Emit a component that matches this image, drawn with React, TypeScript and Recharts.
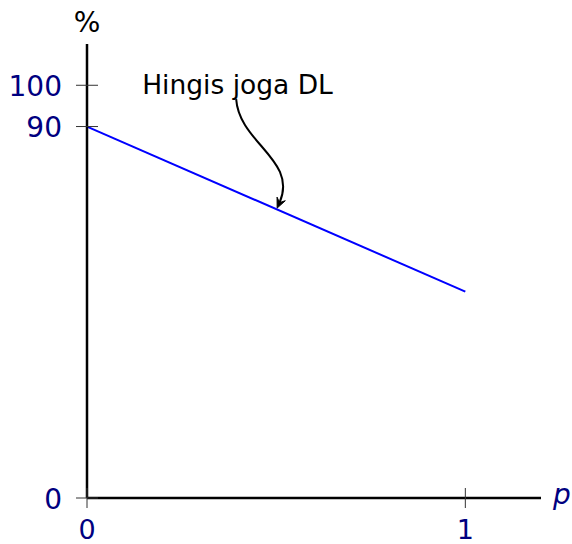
import React from "react";
import {
  LineChart,
  Line,
  XAxis,
  YAxis,
  ReferenceDot,
} from "recharts";

// p values and the % curve
const pValues = [0, 1];
const percentValues = [90, 50];
const xTicks = [0, 1];
const yTicks = [0, 90, 100];
const annotationText = "Hingis joga DL";
const annotationPoint = { p: 0.5, v: 70 };

const data = pValues.map((p, i) => ({ p, v: percentValues[i] }));

const NAVY = "#000080";
const FONT = "'DejaVu Sans', sans-serif";

const YTick = (props: any) => {
  const { x, y, payload } = props;
  return (
    <g>
      <line x1={x - 11} x2={x + 11} y1={y} y2={y} stroke="#333" strokeWidth={1} />
      <text
        x={x - 25}
        y={y + 1}
        textAnchor="end"
        dominantBaseline="central"
        fill={NAVY}
        fontSize={28}
        fontFamily={FONT}
      >
        {payload.value}
      </text>
    </g>
  );
};

const XTick = (props: any) => {
  const { x, y, payload } = props;
  return (
    <g>
      <line x1={x} x2={x} y1={y - 10} y2={y + 10} stroke="#333" strokeWidth={1} />
      <text
        x={x}
        y={y + 31}
        textAnchor="middle"
        dominantBaseline="central"
        fill={NAVY}
        fontSize={27}
        fontFamily={FONT}
      >
        {payload.value}
      </text>
    </g>
  );
};

// curved arrow from the label down to the line
const Annotation = (props: any) => {
  const { cx, cy } = props;
  const tipX = cx + 1;
  const tipY = cy - 1;
  const start = { x: cx - 40, y: cy - 110 };
  const c1 = { x: cx - 37, y: cy - 66 };
  const c2 = { x: cx + 22, y: cy - 49 };
  // arrowhead along the end tangent
  const dx = tipX - c2.x;
  const dy = tipY - c2.y;
  const len = Math.sqrt(dx * dx + dy * dy);
  const ux = dx / len;
  const uy = dy / len;
  const nx = -uy;
  const ny = ux;
  const L = 10;
  const W = 4.5;
  const bx = tipX - ux * L;
  const by = tipY - uy * L;
  const mx = tipX - ux * L * 0.6;
  const my = tipY - uy * L * 0.6;
  return (
    <g>
      <text
        x={cx - 134}
        y={cy - 115}
        fontSize={26.5}
        fontFamily={FONT}
        fill="#000"
      >
        {annotationText}
      </text>
      <path
        d={`M${start.x},${start.y} C${c1.x},${c1.y} ${c2.x},${c2.y} ${mx},${my}`}
        fill="none"
        stroke="#000"
        strokeWidth={2}
      />
      <path
        d={`M${tipX},${tipY} L${bx + nx * W},${by + ny * W} L${mx},${my} L${bx - nx * W},${by - ny * W} Z`}
        fill="#000"
        stroke="#000"
        strokeWidth={1}
        strokeLinejoin="round"
      />
    </g>
  );
};

export default function App() {
  return (
    <div style={{ position: "absolute", left: 0, top: 0, background: "#fff" }}>
      <LineChart
        width={572}
        height={544}
        data={data}
        margin={{ top: 44, right: 31, bottom: 16, left: 27 }}
      >
        <XAxis
          dataKey="p"
          type="number"
          domain={[0, 1.2]}
          ticks={xTicks}
          height={30}
          tickSize={0}
          tickMargin={0}
          tickLine={false}
          axisLine={{ stroke: "#000", strokeWidth: 2.5 }}
          tick={<XTick />}
          label={{
            content: (p: any) => {
              const vb = p.viewBox;
              return (
                <text
                  x={vb.x + vb.width + 12}
                  y={vb.y + 6}
                  fill={NAVY}
                  fontSize={28}
                  fontStyle="italic"
                  fontFamily={FONT}
                >
                  p
                </text>
              );
            },
          }}
        />
        <YAxis
          type="number"
          domain={[0, 110]}
          ticks={yTicks}
          width={60}
          tickSize={0}
          tickMargin={0}
          tickLine={false}
          axisLine={{ stroke: "#000", strokeWidth: 2.5 }}
          tick={<YTick />}
          label={{
            content: (p: any) => {
              const vb = p.viewBox;
              return (
                <text
                  x={vb.x + vb.width}
                  y={vb.y - 22}
                  textAnchor="middle"
                  dominantBaseline="central"
                  fill="#000"
                  fontSize={28}
                  fontFamily={FONT}
                >
                  %
                </text>
              );
            },
          }}
        />
        <Line
          dataKey="v"
          stroke="#0000ff"
          strokeWidth={2}
          dot={false}
          isAnimationActive={false}
        />
        <ReferenceDot
          x={annotationPoint.p}
          y={annotationPoint.v}
          r={0}
          shape={(p: any) => <Annotation {...p} />}
        />
      </LineChart>
    </div>
  );
}
